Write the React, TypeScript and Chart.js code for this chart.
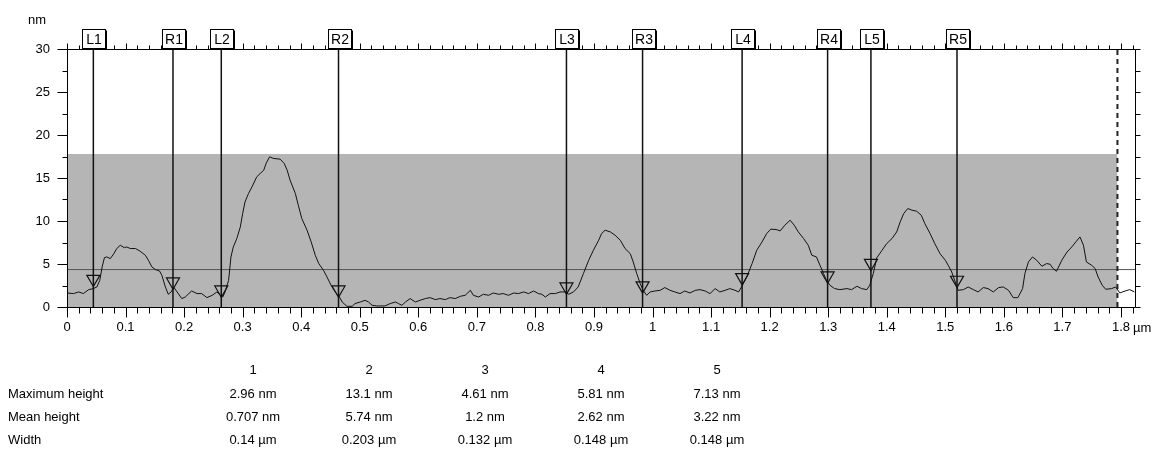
import React, { useEffect, useRef } from "react";
import { Chart, registerables } from "chart.js";

Chart.register(...registerables);

const FONT = '"Liberation Sans", Arial, sans-serif';

// Height profile (µm, nm)
const profileX = [
  0.0, 0.011, 0.02, 0.028, 0.037, 0.045, 0.051, 0.056, 0.06, 0.064, 0.068, 0.074, 0.08, 0.085, 0.091, 0.098,
  0.102, 0.108, 0.117, 0.125, 0.134, 0.139, 0.145, 0.151, 0.158, 0.162, 0.168, 0.173, 0.178, 0.182, 0.188,
  0.196, 0.202, 0.208, 0.213, 0.222, 0.23, 0.239, 0.248, 0.256, 0.262, 0.266, 0.27, 0.276, 0.28, 0.284, 0.29,
  0.296, 0.3, 0.304, 0.31, 0.316, 0.324, 0.33, 0.336, 0.34, 0.346, 0.353, 0.364, 0.371, 0.376, 0.381, 0.39,
  0.395, 0.401, 0.41, 0.417, 0.424, 0.43, 0.438, 0.444, 0.451, 0.458, 0.465, 0.47, 0.478, 0.487, 0.492, 0.501,
  0.509, 0.515, 0.521, 0.529, 0.543, 0.552, 0.561, 0.566, 0.572, 0.578, 0.586, 0.595, 0.603, 0.612, 0.62,
  0.629, 0.637, 0.646, 0.654, 0.663, 0.672, 0.68, 0.689, 0.694, 0.703, 0.711, 0.72, 0.728, 0.737, 0.745,
  0.754, 0.763, 0.771, 0.78, 0.788, 0.797, 0.805, 0.811, 0.817, 0.825, 0.834, 0.842, 0.851, 0.857, 0.865,
  0.873, 0.882, 0.891, 0.899, 0.908, 0.913, 0.919, 0.928, 0.936, 0.945, 0.953, 0.962, 0.967, 0.973, 0.979,
  0.984, 0.99, 0.996, 1.004, 1.013, 1.021, 1.03, 1.038, 1.047, 1.055, 1.064, 1.073, 1.081, 1.09, 1.098, 1.107,
  1.115, 1.124, 1.132, 1.141, 1.147, 1.152, 1.161, 1.17, 1.178, 1.187, 1.195, 1.202, 1.211, 1.218, 1.226,
  1.235, 1.242, 1.249, 1.258, 1.266, 1.272, 1.28, 1.286, 1.292, 1.297, 1.303, 1.311, 1.32, 1.332, 1.34, 1.349,
  1.357, 1.366, 1.371, 1.377, 1.383, 1.392, 1.4, 1.409, 1.417, 1.423, 1.429, 1.436, 1.443, 1.451, 1.459,
  1.465, 1.474, 1.482, 1.491, 1.5, 1.505, 1.511, 1.517, 1.522, 1.531, 1.539, 1.548, 1.556, 1.565, 1.573,
  1.582, 1.591, 1.599, 1.608, 1.616, 1.624, 1.632, 1.636, 1.642, 1.649, 1.656, 1.665, 1.673, 1.679, 1.684,
  1.69, 1.699, 1.708, 1.716, 1.723, 1.73, 1.736, 1.741, 1.75, 1.756, 1.761, 1.768, 1.774, 1.784, 1.791,
  1.798, 1.807, 1.815, 1.823,
];
const profileY = [
  1.63, 1.56, 1.75, 1.56, 2.02, 2.14, 2.33, 3.1, 4.66, 5.75, 5.82, 5.63, 6.2, 6.8, 7.18, 6.9,
  6.98, 6.8, 6.8, 6.48, 6.0, 5.44, 4.66, 4.35, 4.19, 3.69, 2.33, 1.48, 1.75, 2.33, 1.75,
  0.98, 1.16, 1.56, 1.86, 1.56, 1.56, 1.09, 1.36, 1.75, 1.36, 1.16, 1.75, 3.1, 5.82, 6.98, 7.96,
  9.31, 10.87, 12.22, 13.2, 13.97, 15.13, 15.53, 15.91, 16.69, 17.46, 17.27, 17.19, 16.69, 15.91, 14.75, 13.2,
  11.84, 10.29, 8.93, 7.57, 6.02, 5.05, 4.27, 3.49, 2.53, 1.75, 1.2, 0.58, 0.08, 0.08, 0.4, 0.58,
  0.78, 0.58, 0.2, 0.12, 0.12, 0.4, 0.58, 0.4, 0.2, 0.58, 0.98, 0.58, 0.78, 0.98, 1.09,
  0.86, 0.98, 0.86, 1.09, 0.98, 1.25, 1.36, 1.94, 1.36, 1.16, 1.48, 1.36, 1.63, 1.48, 1.56,
  1.36, 1.63, 1.56, 1.75, 1.56, 1.86, 1.56, 1.48, 1.16, 1.56, 1.56, 1.75, 1.75, 1.48, 1.75,
  2.33, 3.89, 5.44, 6.6, 7.76, 8.54, 8.93, 8.73, 8.35, 7.76, 6.8, 6.2, 5.24, 3.89, 2.72,
  1.94, 1.36, 1.75, 1.86, 1.94, 2.26, 1.94, 1.75, 1.56, 1.86, 1.63, 1.94, 2.02, 1.86, 1.56, 2.14,
  1.75, 1.94, 2.14, 1.94, 1.75, 2.33, 3.49, 5.05, 6.6, 7.57, 8.54, 9.05, 9.01, 8.85, 9.51,
  10.09, 9.51, 8.73, 7.96, 7.18, 6.02, 5.82, 4.85, 3.89, 3.1, 2.53, 2.14, 2.02, 2.14, 2.02, 2.41,
  2.14, 2.02, 2.53, 3.89, 5.72, 6.6, 7.38, 7.96, 8.73, 9.9, 10.87, 11.45, 11.26, 11.14, 10.67,
  9.71, 8.54, 7.38, 6.2, 5.44, 4.85, 4.07, 2.91, 1.94, 2.02, 2.33, 2.02, 1.75, 2.26, 2.14,
  1.75, 2.26, 2.33, 1.94, 1.09, 1.09, 2.14, 3.89, 5.24, 5.82, 5.44, 4.74, 5.05, 4.97, 4.47,
  4.16, 5.44, 6.4, 6.98, 7.57, 8.15, 7.18, 5.24, 4.85, 4.47, 3.49, 2.53, 2.06, 2.14, 2.33,
  1.63, 1.86, 2.02, 1.75,
];

// Cursor markers
const markerNames = ["L1", "R1", "L2", "R2", "L3", "R3", "L4", "R4", "L5", "R5"];
const markerX = [0.045, 0.181, 0.2635, 0.4637, 0.853, 0.983, 1.153, 1.299, 1.373, 1.52];
const markerTriY = [3.25, 2.94, 2.01, 2.01, 2.36, 2.48, 3.45, 3.64, 5.1, 3.14];

const referenceLevel = 4.35;
const bandTop = 17.8;
const bandEnd = 1.794;
const xMin = 0;
const xMax = 1.824;
const yMin = 0;
const yMax = 30;
const xLabelStep = 0.1;
const xMinorStep = 0.02;
const yLabelStep = 5;
const yMinorStep = 2.5;

// Results table
const tableColumns = ["1", "2", "3", "4", "5"];
const rowLabels = ["Maximum height", "Mean height", "Width"];
const maxHeights = ["2.96 nm", "13.1 nm", "4.61 nm", "5.81 nm", "7.13 nm"];
const meanHeights = ["0.707 nm", "5.74 nm", "1.2 nm", "2.62 nm", "3.22 nm"];
const widths = ["0.14 µm", "0.203 µm", "0.132 µm", "0.148 µm", "0.148 µm"];

const colCenters = [253, 369, 485, 601, 717];
const rowCenters = [393, 416, 439];

export default function App() {
  const ref = useRef<HTMLCanvasElement>(null);

  useEffect(() => {
    document.body.style.margin = "0";
    const canvas = ref.current;
    if (!canvas) return;

    const markerLines: any[] = [];
    markerX.forEach((x) => {
      markerLines.push({ x, y: yMin }, { x, y: yMax }, { x, y: null });
    });

    const decor = {
      id: "afmDecor",
      afterDraw(chart: any) {
        const { ctx, chartArea: a, scales } = chart;
        const xs = scales.x;
        const ys = scales.y;
        const L = Math.round(a.left) + 0.5;
        const R = Math.round(a.right) + 0.5;
        const T = Math.round(a.top) + 0.5;
        const B = Math.round(a.bottom) + 0.5;
        ctx.save();
        ctx.strokeStyle = "#000";
        ctx.lineWidth = 1;
        ctx.beginPath();
        ctx.moveTo(L, T);
        ctx.lineTo(L, B);
        ctx.moveTo(R, T);
        ctx.lineTo(R, B);
        ctx.moveTo(L, T);
        ctx.lineTo(R, T);
        ctx.moveTo(L, B);
        ctx.lineTo(R, B);
        // y ticks (left: outward, right: outward)
        const ny = Math.round((yMax - yMin) / yMinorStep);
        for (let i = 0; i <= ny; i++) {
          const v = yMin + i * yMinorStep;
          const py = Math.round(ys.getPixelForValue(v)) + 0.5;
          const major = Math.abs(v / yLabelStep - Math.round(v / yLabelStep)) < 1e-6;
          ctx.moveTo(L, py);
          ctx.lineTo(L - (major ? 10 : 5), py);
          ctx.moveTo(R, py);
          ctx.lineTo(R + 5, py);
        }
        // x ticks bottom (down) and top (up)
        const nx = Math.floor((xMax - xMin) / xMinorStep + 1e-6);
        for (let i = 0; i <= nx; i++) {
          const v = xMin + i * xMinorStep;
          const px = Math.round(xs.getPixelForValue(v)) + 0.5;
          const major = i % Math.round(xLabelStep / xMinorStep) === 0;
          ctx.moveTo(px, B);
          ctx.lineTo(px, B + (major ? 10 : 6));
          ctx.moveTo(px, T);
          ctx.lineTo(px, T - (major ? 6 : 4));
        }
        ctx.stroke();

        // cursor label boxes
        ctx.font = `14px ${FONT}`;
        ctx.textAlign = "center";
        ctx.textBaseline = "middle";
        markerNames.forEach((name, i) => {
          const cx = Math.round(xs.getPixelForValue(markerX[i]));
          const bw = 23;
          const bh = 19;
          const bx = cx - 11 + 0.5;
          const by = Math.round(a.top) - bh - 1 + 0.5;
          ctx.fillStyle = "#fff";
          ctx.fillRect(bx, by, bw, bh);
          ctx.strokeStyle = "#000";
          ctx.lineWidth = 1;
          ctx.strokeRect(bx, by, bw, bh);
          ctx.beginPath();
          ctx.moveTo(bx + 1, by + bh + 1);
          ctx.lineTo(bx + bw + 1, by + bh + 1);
          ctx.lineTo(bx + bw + 1, by + 1);
          ctx.stroke();
          ctx.fillStyle = "#000";
          ctx.fillText(name, cx + 1, by + bh / 2 + 1);
        });

        // axis units
        ctx.font = `13px ${FONT}`;
        ctx.textAlign = "left";
        ctx.fillStyle = "#000";
        ctx.fillText("nm", 28, 20);
        const p18 = xs.getPixelForValue(1.8);
        ctx.fillText("µm", p18 + 12, a.bottom + 21);
        ctx.restore();
      },
    };

    const chart = new Chart(canvas, {
      type: "line",
      data: {
        datasets: [
          {
            label: "band",
            data: [
              { x: xMin, y: bandTop },
              { x: bandEnd, y: bandTop },
            ],
            borderWidth: 0,
            borderColor: "rgba(0,0,0,0)",
            backgroundColor: "#b5b5b5",
            fill: "origin",
            pointRadius: 0,
            order: 10,
          },
          {
            label: "reference",
            data: [
              { x: xMin, y: referenceLevel },
              { x: xMax, y: referenceLevel },
            ],
            borderColor: "#555",
            borderWidth: 1,
            pointRadius: 0,
            fill: false,
            order: 5,
          },
          {
            label: "end",
            data: [
              { x: bandEnd, y: yMin },
              { x: bandEnd, y: yMax },
            ],
            borderColor: "#222",
            borderWidth: 2,
            borderDash: [5, 4],
            pointRadius: 0,
            fill: false,
            order: 4,
          },
          {
            label: "profile",
            data: profileX.map((x, i) => ({ x, y: profileY[i] })),
            borderColor: "#111",
            borderWidth: 1,
            pointRadius: 0,
            fill: false,
            tension: 0,
            order: 3,
          },
          {
            label: "cursors",
            data: markerLines,
            borderColor: "#111",
            borderWidth: 1.5,
            pointRadius: 0,
            fill: false,
            spanGaps: false,
            order: 2,
          },
          {
            label: "triangles",
            data: markerX.map((x, i) => ({ x, y: markerTriY[i] })),
            showLine: false,
            pointStyle: "triangle",
            rotation: 180,
            pointRadius: 7.5,
            pointBorderColor: "#111",
            pointBackgroundColor: "rgba(0,0,0,0)",
            pointBorderWidth: 1.2,
            fill: false,
            order: 1,
          } as any,
        ],
      },
      options: {
        responsive: false,
        animation: false,
        devicePixelRatio: 1,
        layout: { padding: { left: 0, right: 26, top: 49, bottom: 0 } },
        plugins: {
          legend: { display: false },
          tooltip: { enabled: false },
          title: { display: false },
        },
        scales: {
          x: {
            type: "linear",
            min: xMin,
            max: xMax,
            grid: { display: false, drawTicks: false },
            border: { display: false },
            ticks: {
              stepSize: xLabelStep,
              includeBounds: false,
              autoSkip: false,
              maxRotation: 0,
              padding: 13,
              color: "#000",
              font: { family: FONT, size: 13 },
              callback: (v: any) => {
                const r = Math.round(Number(v) * 10) / 10;
                return r === 0 ? "0" : String(r);
              },
            },
            afterFit: (s: any) => {
              s.height = 148;
            },
          },
          y: {
            type: "linear",
            min: yMin,
            max: yMax,
            grid: { display: false, drawTicks: false },
            border: { display: false },
            ticks: {
              stepSize: yLabelStep,
              padding: 17,
              color: "#000",
              font: { family: FONT, size: 13 },
            },
            afterFit: (s: any) => {
              s.width = 67;
            },
          },
        },
      },
      plugins: [decor],
    });

    return () => chart.destroy();
  }, []);

  const rows = [maxHeights, meanHeights, widths];
  const cell: React.CSSProperties = {
    position: "absolute",
    transform: "translate(-50%, -50%)",
    whiteSpace: "nowrap",
    lineHeight: "1",
  };

  return (
    <div
      style={{
        position: "relative",
        width: 1161,
        height: 455,
        background: "#fff",
        fontFamily: FONT,
        fontSize: 13,
        color: "#000",
        overflow: "hidden",
      }}
    >
      <canvas ref={ref} width={1161} height={455} style={{ display: "block" }} />
      {tableColumns.map((c, i) => (
        <div key={"h" + i} style={{ ...cell, left: colCenters[i], top: 369 }}>
          {c}
        </div>
      ))}
      {rowLabels.map((lab, r) => (
        <div
          key={"l" + r}
          style={{ position: "absolute", left: 8, top: rowCenters[r], transform: "translateY(-50%)", whiteSpace: "nowrap", lineHeight: "1" }}
        >
          {lab}
        </div>
      ))}
      {rows.map((vals, r) =>
        vals.map((v, i) => (
          <div key={"c" + r + "-" + i} style={{ ...cell, left: colCenters[i], top: rowCenters[r] }}>
            {v}
          </div>
        ))
      )}
    </div>
  );
}
